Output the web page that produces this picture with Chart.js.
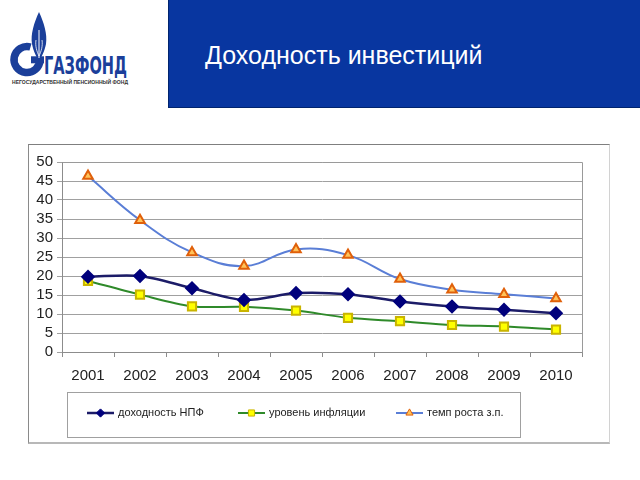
<!DOCTYPE html>
<html>
<head>
<meta charset="utf-8">
<script src="https://cdn.jsdelivr.net/npm/chart.js@4/dist/chart.umd.min.js"></script>
<style>
  body { margin: 0; width: 640px; height: 480px; background: #fff; overflow: hidden; font-family: Arial, "Liberation Sans", sans-serif; }
  #logo { position: absolute; left: 0; top: 0; }
  #header { position: absolute; left: 168px; top: 0; width: 472px; height: 107px; background: #0836a0; border-left: 1px solid #00246e; border-bottom: 1px solid #00246e; }
  #title { position: absolute; left: 205px; top: 40px; color: #fff; font-size: 25px; line-height: 30px; }
  #box { position: absolute; left: 28px; top: 144px; width: 582px; height: 300px; box-sizing: border-box;
         border-top: 1px solid #7f7f7f; border-left: 1px solid #8a8a8a; border-right: 1px solid #d2d2d2; border-bottom: 2px solid #b8b8b8; }
  #chart { position: absolute; left: 28px; top: 144px; }
</style>
</head>
<body>
<svg id="logo" width="168" height="108">
  <path d="M30.5,47 A13,13 0 1 0 40,60" fill="none" stroke="#1b3f9a" stroke-width="7.5"/>
  <rect x="31" y="56.3" width="13" height="7" fill="#1b3f9a"/>
  <path d="M39,12 C44,23 47.5,34 46,44 C44.5,52 41,57 39,62 C37,57 33.5,52 32,44 C30.5,34 34,23 39,12 Z" fill="#1b3f9a"/>
  <path d="M39,30 L39,58" stroke="#fff" stroke-width="1"/>
  <path d="M36,40 C35,46 37,52 39,56" fill="none" stroke="#fff" stroke-width="0.8"/>
  <path d="M42,40 C43,46 41,52 39,56" fill="none" stroke="#fff" stroke-width="0.8"/>
  <text x="44" y="74" font-family="'DejaVu Sans Condensed', 'DejaVu Sans', sans-serif" font-weight="bold" font-size="25" textLength="83" lengthAdjust="spacingAndGlyphs" fill="#1b3f9a">ГАЗФОНД</text>
  <text x="12" y="84" font-family="Arial, 'Liberation Sans', sans-serif" font-weight="bold" font-size="5" textLength="116" lengthAdjust="spacingAndGlyphs" fill="#333">НЕГОСУДАРСТВЕННЫЙ ПЕНСИОННЫЙ ФОНД</text>
</svg>
<div id="header"></div>
<div id="title">Доходность инвестиций</div>
<div id="box"></div>
<canvas id="chart" width="582" height="300"></canvas>
<script>
var years = ["2001", "2002", "2003", "2004", "2005", "2006", "2007", "2008", "2009", "2010"];
var npfReturn = [19.8, 20, 16.8, 13.7, 15.5, 15.2, 13.3, 12, 11.1, 10.2];
var inflation = [18.7, 15.1, 12, 11.9, 10.9, 9, 8.1, 7.1, 6.7, 5.9];
var wageGrowth = [46.3, 34.7, 26.2, 22.6, 27, 25.5, 19.2, 16.4, 15.2, 14.1];
var seriesNames = ["доходность НПФ", "уровень инфляции", "темп роста з.п."];

// legend item starts, canvas coords
var legendX = [59, 210, 368];

// legend box + plot frame, drawn by hand (Excel-like legend with line samples)
var excelBits = {
  id: 'excelBits',
  afterDraw: function (chart) {
    var ctx = chart.ctx;
    var a = chart.chartArea;
    ctx.save();
    ctx.strokeStyle = '#9a9a9a';
    ctx.lineWidth = 1;
    ctx.beginPath();
    ctx.moveTo(Math.round(a.left) + 0.5, Math.round(a.top) + 0.5);
    ctx.lineTo(Math.round(a.right) + 0.5, Math.round(a.top) + 0.5);
    ctx.lineTo(Math.round(a.right) + 0.5, Math.round(a.bottom) + 0.5);
    ctx.stroke();

    ctx.strokeStyle = '#a0a0a0';
    ctx.strokeRect(39.5, 248.5, 453, 45);

    ctx.font = '11px Arial, "Liberation Sans", sans-serif';
    ctx.textBaseline = 'middle';
    var y = 269;
    chart.data.datasets.forEach(function (ds, i) {
      var x = legendX[i];
      ctx.strokeStyle = ds.borderColor;
      ctx.lineWidth = ds.borderWidth;
      ctx.beginPath();
      ctx.moveTo(x, y);
      ctx.lineTo(x + 27, y);
      ctx.stroke();
      ctx.fillStyle = ds.pointBackgroundColor;
      ctx.strokeStyle = ds.pointBorderColor;
      ctx.lineWidth = 1;
      Chart.helpers.drawPoint(ctx, { pointStyle: ds.pointStyle, radius: ds.pointRadius * 0.75, borderWidth: 1 }, x + 13.5, y);
      ctx.fillStyle = '#222';
      ctx.fillText(ds.label, x + 31, y);
    });
    ctx.restore();
  }
};

var ctx = document.getElementById("chart").getContext('2d');
var myChart = new Chart(ctx, {
  type: 'line',
  data: {
    labels: years,
    datasets: [{
      label: seriesNames[0],
      data: npfReturn,
      borderColor: '#1c1c68',
      borderWidth: 2.5,
      pointStyle: 'rectRot',
      pointRadius: 5.5,
      pointBackgroundColor: '#00007c',
      pointBorderColor: '#00007c',
      tension: 0.3
    }, {
      label: seriesNames[1],
      data: inflation,
      borderColor: '#2f8a2a',
      borderWidth: 2,
      pointStyle: 'rect',
      pointRadius: 5.8,
      pointBackgroundColor: '#ffff00',
      pointBorderColor: '#c9b400',
      tension: 0.3
    }, {
      label: seriesNames[2],
      data: wageGrowth,
      borderColor: '#5a7ed6',
      borderWidth: 2,
      pointStyle: 'triangle',
      pointRadius: 5.5,
      pointBackgroundColor: '#ffc35a',
      pointBorderColor: '#e0600a',
      tension: 0.4
    }]
  },
  options: {
    responsive: false,
    animation: false,
    layout: { padding: { top: 18, right: 28, left: 0, bottom: 0 } },
    plugins: {
      legend: { display: false },
      tooltip: { enabled: false }
    },
    scales: {
      x: {
        offset: true,
        afterFit: function (scale) { scale.height = 92; },
        grid: { drawOnChartArea: false, drawTicks: true, tickLength: 5, color: '#8c8c8c', offset: true },
        border: { color: '#8c8c8c' },
        ticks: { color: '#222', padding: 10, font: { family: 'Arial, "Liberation Sans", sans-serif', size: 15 } }
      },
      y: {
        min: 0,
        max: 50,
        afterFit: function (scale) { scale.width = 34; },
        grid: { color: '#a0a0a0', tickLength: 5 },
        border: { color: '#8c8c8c' },
        ticks: { stepSize: 5, autoSkip: false, maxTicksLimit: 20, color: '#222', padding: 4, font: { family: 'Arial, "Liberation Sans", sans-serif', size: 15 } }
      }
    }
  },
  plugins: [excelBits]
});
</script>
</body>
</html>
